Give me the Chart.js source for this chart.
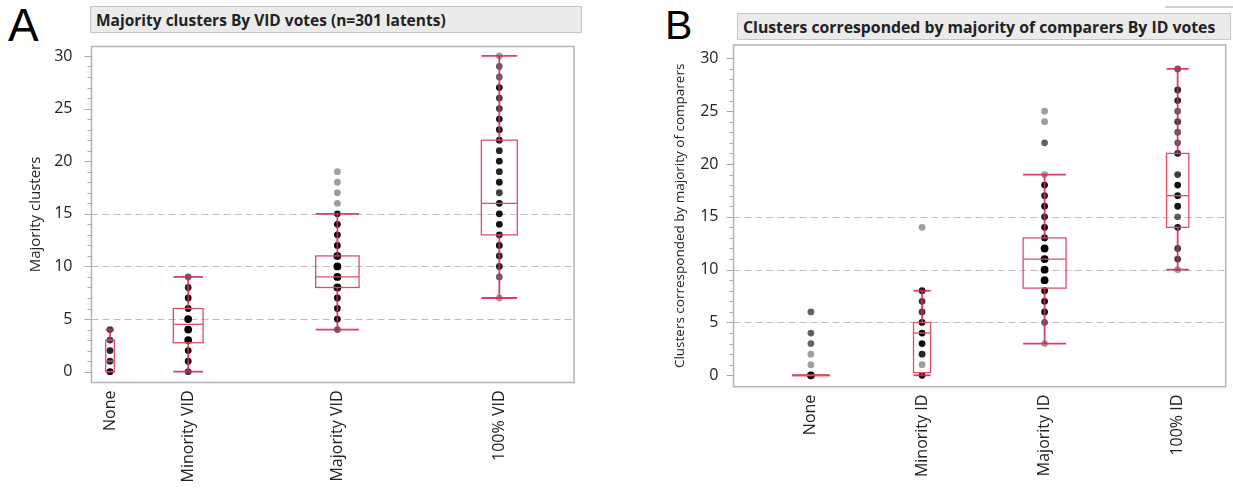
<!DOCTYPE html>
<html>
<head>
<meta charset="utf-8">
<script src="https://cdn.jsdelivr.net/npm/chart.js@4.4.1/dist/chart.umd.min.js"></script>
<style>
  html, body { margin: 0; padding: 0; background: #fff; }
  body { width: 1233px; height: 493px; position: relative; overflow: hidden; font-family: "Open Sans", sans-serif; }
  .letter { position: absolute; font-family: "Liberation Sans", Arial, sans-serif; line-height: 1; color: #000; }
  .titlebox { position: absolute; box-sizing: border-box; background: #ebebeb; border: 1px solid #c6c6c6;
              font-weight: bold; color: #222; display: flex; align-items: center; padding-left: 5px;
              white-space: nowrap; overflow: hidden; }
  .wrap { position: absolute; }
</style>
</head>
<body>
<div class="letter" style="left:8px;top:2px;font-size:46px">A</div>
<div class="titlebox" style="left:90px;top:6px;width:492px;height:27px;font-size:15.5px">Majority clusters By VID votes (n=301 latents)</div>
<div class="wrap" style="left:0;top:40px"><canvas id="chartA" width="590" height="453"></canvas></div>

<div class="letter" style="left:665px;top:5px;font-size:41px">B</div>
<div style="position:absolute;left:1165px;top:6px;width:68px;height:2px;background:#cfcfcf"></div>
<div class="titlebox" style="left:737px;top:13px;width:494px;height:27px;font-size:15.8px">Clusters corresponded by majority of comparers By ID votes</div>
<div class="wrap" style="left:620px;top:38px"><canvas id="chartB" width="613" height="455"></canvas></div>

<script>
// Panel A : Majority clusters By VID votes
const aLabels = ['None', 'Minority VID', 'Majority VID', '100% VID'];
const aN = [22, 76, 111, 92];
const aQ1 = [0, 2.75, 8, 13];
const aMedian = [1, 4.5, 9, 16];
const aQ3 = [3, 6, 11, 22];
const aLow = [0, 0, 4, 7];
const aHigh = [4, 9, 15, 30];
const aDotValues = [
  [0, 1, 2, 3, 4],
  [0, 1, 2, 3, 4, 5, 6, 7, 8, 9],
  [4, 5, 6, 7, 8, 9, 10, 11, 12, 13, 14, 15, 16, 17, 18, 19],
  [7, 9, 10, 11, 12, 13, 14, 15, 16, 17, 18, 19, 20, 21, 22, 23, 24, 25, 26, 27, 28, 29, 30]
];
const aDotCounts = [
  [8, 4, 4, 3, 3],
  [3, 6, 8, 11, 11, 15, 8, 8, 4, 2],
  [2, 9, 6, 7, 14, 16, 16, 12, 8, 6, 6, 5, 1, 1, 1, 1],
  [1, 2, 4, 4, 6, 5, 6, 6, 6, 3, 5, 4, 5, 4, 5, 5, 5, 3, 3, 5, 2, 2, 1]
];

// Panel B : Clusters corresponded by majority of comparers By ID votes
const bLabels = ['None', 'Minority ID', 'Majority ID', '100% ID'];
const bN = [94, 43, 108, 56];
const bQ1 = [0, 0.25, 8.25, 14];
const bMedian = [0, 4, 11, 17];
const bQ3 = [0, 5, 13, 21];
const bLow = [0, 0, 3, 10];
const bHigh = [0, 8, 19, 29];
const bDotValues = [
  [0, 1, 2, 3, 4, 6],
  [0, 1, 2, 3, 4, 5, 6, 7, 8, 14],
  [3, 5, 6, 7, 8, 9, 10, 11, 12, 13, 14, 15, 16, 17, 18, 19, 22, 24, 25],
  [10, 11, 12, 14, 15, 16, 17, 18, 19, 21, 22, 23, 24, 25, 26, 27, 29]
];
const bDotCounts = [
  [86, 1, 1, 2, 2, 2],
  [6, 1, 4, 6, 8, 6, 3, 3, 5, 1],
  [1, 2, 5, 6, 8, 10, 11, 12, 12, 8, 8, 4, 6, 4, 6, 1, 2, 1, 1],
  [1, 3, 3, 5, 2, 5, 5, 6, 3, 4, 2, 2, 3, 2, 4, 4, 2]
];

const yTicks = [0, 5, 10, 15, 20, 25, 30];
const gridValues = [5, 10, 15];

const RED = 'rgba(212, 40, 78, 0.88)';
const BOX_RED = 'rgb(222, 78, 105)';
const BOX_FRAC = 0.245;   // box width as share of group width (JMP style)

// group centres: x axis proportional to group size
function groupCenters(n) {
  let start = 0;
  return n.map(c => { const m = start + c / 2; start += c; return m; });
}

function dotData(n, values, counts) {
  const centers = groupCenters(n);
  const pts = [], colors = [], radii = [];
  values.forEach((vals, g) => {
    vals.forEach((v, i) => {
      const alpha = 1 - Math.pow(0.62, counts[g][i]);
      pts.push({ x: centers[g], y: v });
      colors.push('rgba(0,0,0,' + alpha.toFixed(3) + ')');
      radii.push(counts[g][i] >= 10 ? 3.9 : 3.4);
    });
  });
  return { pts, colors, radii };
}

function boxPlugin(n, q1, med, q3, lo, hi) {
  return {
    id: 'boxes',
    afterDatasetsDraw(chart) {
      const { ctx, scales: { x, y } } = chart;
      const centers = groupCenters(n);
      const seg = (x1, y1, x2, y2) => { ctx.beginPath(); ctx.moveTo(x1, y1); ctx.lineTo(x2, y2); ctx.stroke(); };
      ctx.save();
      for (let i = 0; i < n.length; i++) {
        const xl = x.getPixelForValue(centers[i] - n[i] * BOX_FRAC / 2);
        const xr = x.getPixelForValue(centers[i] + n[i] * BOX_FRAC / 2);
        const xc = x.getPixelForValue(centers[i]);
        const yq1 = y.getPixelForValue(q1[i]), yq3 = y.getPixelForValue(q3[i]);
        const ylo = y.getPixelForValue(lo[i]), yhi = y.getPixelForValue(hi[i]);
        // whiskers and caps
        ctx.strokeStyle = RED;
        ctx.lineWidth = 1.8;
        seg(xc, yq3, xc, yhi);
        seg(xc, yq1, xc, ylo);
        seg(xl, yhi, xr, yhi);
        seg(xl, ylo, xr, ylo);
        // box and median
        ctx.strokeStyle = BOX_RED;
        ctx.lineWidth = 1.3;
        ctx.strokeRect(xl, yq3, xr - xl, yq1 - yq3);
        const ym = y.getPixelForValue(med[i]);
        seg(xl, ym, xr, ym);
      }
      ctx.restore();
    }
  };
}

const framePlugin = {
  id: 'frame',
  beforeDatasetsDraw(chart) {
    const { ctx, chartArea: a, scales: { y } } = chart;
    ctx.save();
    ctx.strokeStyle = '#bcbcbc';
    ctx.lineWidth = 1;
    ctx.setLineDash([7, 4]);
    gridValues.forEach(v => {
      const py = Math.round(y.getPixelForValue(v)) + 0.5;
      ctx.beginPath(); ctx.moveTo(a.left, py); ctx.lineTo(a.right, py); ctx.stroke();
    });
    ctx.restore();
  },
  afterDraw(chart) {
    const { ctx, chartArea: a, scales: { y } } = chart;
    ctx.save();
    // y tick marks: major every 5, minor every 1
    ctx.strokeStyle = '#a8a8a8';
    ctx.lineWidth = 1;
    for (let v = 0; v <= 30; v++) {
      const py = Math.round(y.getPixelForValue(v)) + 0.5;
      const len = v % 5 === 0 ? 7 : 4;
      ctx.beginPath(); ctx.moveTo(a.left - len, py); ctx.lineTo(a.left, py); ctx.stroke();
    }
    // plot frame
    ctx.strokeStyle = '#b4b4b4';
    ctx.lineWidth = 1.5;
    ctx.strokeRect(a.left, a.top, a.right - a.left, a.bottom - a.top);
    ctx.restore();
  }
};

function makeChart(id, cfg) {
  const dots = dotData(cfg.n, cfg.values, cfg.counts);
  const centers = groupCenters(cfg.n);
  return new Chart(document.getElementById(id), {
    type: 'scatter',
    data: {
      datasets: [{
        data: dots.pts,
        pointBackgroundColor: dots.colors,
        pointBorderWidth: 0,
        pointBorderColor: 'rgba(0,0,0,0)',
        pointRadius: dots.radii
      }]
    },
    options: {
      responsive: false,
      animation: false,
      events: [],
      layout: { padding: { left: 0, top: cfg.padTop, right: cfg.padRight, bottom: 0 } },
      plugins: { legend: { display: false }, tooltip: { enabled: false } },
      scales: {
        x: {
          type: 'linear',
          min: cfg.xMin,
          max: cfg.xMax,
          grid: { display: false, drawTicks: false },
          border: { display: false },
          afterBuildTicks: s => { s.ticks = centers.map(v => ({ value: v })); },
          afterFit: s => { s.height = cfg.xHeight; s.paddingLeft = 0; s.paddingRight = 0; },
          ticks: {
            autoSkip: false,
            minRotation: 90,
            maxRotation: 90,
            padding: 8,
            color: '#222',
            font: { family: 'Open Sans', size: cfg.xFont },
            callback: (v, i) => cfg.labels[i]
          }
        },
        y: {
          min: cfg.yMin,
          max: cfg.yMax,
          grid: { display: false, drawTicks: false },
          border: { display: false },
          afterBuildTicks: s => { s.ticks = yTicks.map(v => ({ value: v })); },
          afterFit: s => { s.width = cfg.yWidth; s.paddingTop = 0; s.paddingBottom = 0; },
          ticks: {
            padding: cfg.yPad,
            color: '#222',
            font: { family: 'Open Sans', size: 16 }
          },
          title: {
            display: true,
            text: cfg.yTitle,
            color: '#222',
            padding: { top: cfg.titlePad, bottom: 0 },
            font: { family: 'Open Sans', size: cfg.titleFont }
          }
        }
      }
    },
    plugins: [framePlugin, boxPlugin(cfg.n, cfg.q1, cfg.med, cfg.q3, cfg.lo, cfg.hi)]
  });
}

makeChart('chartA', {
  n: aN, values: aDotValues, counts: aDotCounts, labels: aLabels,
  q1: aQ1, med: aMedian, q3: aQ3, lo: aLow, hi: aHigh,
  xMin: -0.6, xMax: 301.8, yMin: -1.03, yMax: 30.9,
  padTop: 6.5, padRight: 16, xHeight: 110.5, yWidth: 91.5, yPad: 19,
  xFont: 16, yTitle: 'Majority clusters', titleFont: 15, titlePad: 27
});

makeChart('chartB', {
  n: bN, values: bDotValues, counts: bDotCounts, labels: bLabels,
  q1: bQ1, med: bMedian, q3: bQ3, lo: bLow, hi: bHigh,
  xMin: -0.7, xMax: 302.6, yMin: -1.08, yMax: 31.26,
  padTop: 7, padRight: 7.3, xHeight: 106.3, yWidth: 113.5, yPad: 15,
  xFont: 16, yTitle: 'Clusters corresponded by majority of comparers', titleFont: 13.5, titlePad: 52
});
</script>
</body>
</html>
